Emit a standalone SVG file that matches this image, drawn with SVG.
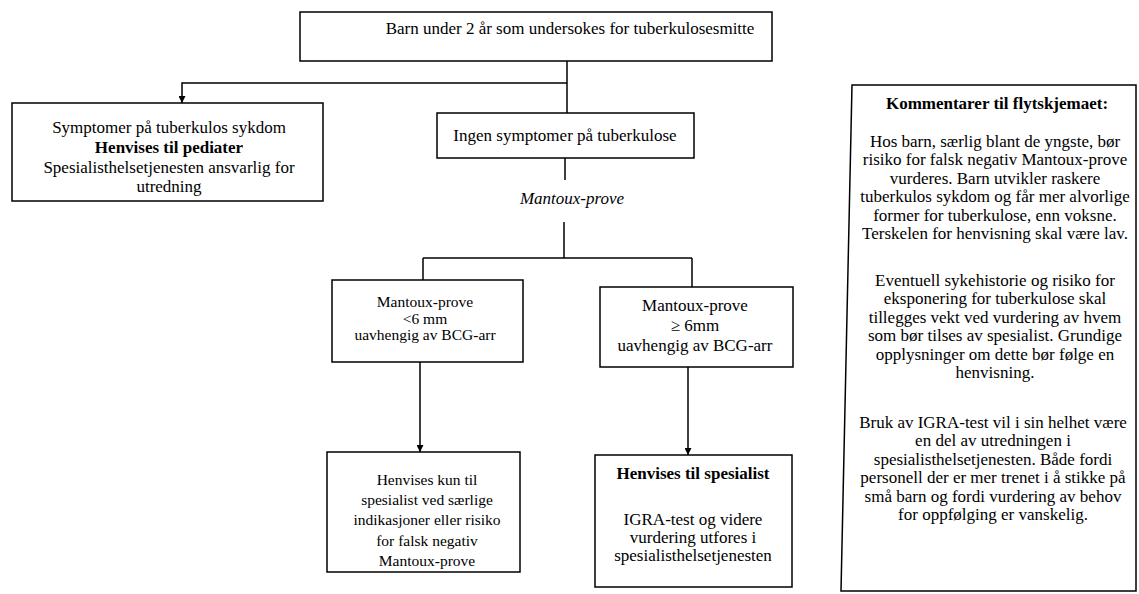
<svg xmlns="http://www.w3.org/2000/svg" width="1139" height="594" viewBox="0 0 1139 594">
  <style>
    .box { fill: #ffffff; stroke: #000000; stroke-width: 1.5; }
    .wire { fill: none; stroke: #000000; stroke-width: 1.5; }
    text { font-family: "Liberation Serif", "Times New Roman", serif; font-size: 17px; fill: #000000; text-anchor: middle; }
    .b { font-weight: bold; }
    .i { font-style: italic; }
    .sm { font-size: 15.5px; }
  </style>
  <defs>
    <marker id="arrow" viewBox="0 0 10 10" refX="10" refY="5" markerWidth="8" markerHeight="7" orient="auto" markerUnits="userSpaceOnUse">
      <path d="M0,0 L10,5 L0,10 z" fill="#000000"/>
    </marker>
  </defs>

  <!-- connectors -->
  <g id="connectors">
    <path class="wire" d="M567,61 V113"/>
    <path class="wire" d="M567,83 H182 V103" marker-end="url(#arrow)"/>
    <path class="wire" d="M565,158 V180"/>
    <path class="wire" d="M564,222 V258"/>
    <path class="wire" d="M423,258 H692"/>
    <path class="wire" d="M423,258 V280"/>
    <path class="wire" d="M692,258 V287"/>
    <path class="wire" d="M420,362 V452" marker-end="url(#arrow)"/>
    <path class="wire" d="M688,367 V455" marker-end="url(#arrow)"/>
  </g>

  <g id="start">
    <rect class="box" x="300" y="12" width="472" height="49"/>
    <text x="570" y="34">Barn under 2 år som undersokes for tuberkulosesmitte</text>
  </g>

  <g id="symptoms">
    <rect class="box" x="12" y="103" width="311" height="98"/>
    <text x="169" y="133">Symptomer på tuberkulos sykdom</text>
    <text x="169" y="153" class="b">Henvises til pediater</text>
    <text x="169" y="173">Spesialisthelsetjenesten ansvarlig for</text>
    <text x="169" y="192">utredning</text>
  </g>

  <g id="no-symptoms">
    <rect class="box" x="437" y="113" width="257" height="45"/>
    <text x="565" y="141">Ingen symptomer på tuberkulose</text>
  </g>

  <g id="mantoux-label">
    <text x="572" y="204" class="i">Mantoux-prove</text>
  </g>

  <g id="mantoux-low">
    <rect class="box" x="332" y="280" width="191" height="82"/>
    <text x="425" y="307" class="sm">Mantoux-prove</text>
    <text x="425" y="323.5" class="sm">&lt;6 mm</text>
    <text x="425" y="340" class="sm">uavhengig av BCG-arr</text>
  </g>

  <g id="mantoux-high">
    <rect class="box" x="600" y="287" width="193" height="80"/>
    <text x="695" y="311">Mantoux-prove</text>
    <text x="695" y="331">≥ 6mm</text>
    <text x="695" y="351">uavhengig av BCG-arr</text>
  </g>

  <g id="refer-special">
    <rect class="box" x="327" y="452" width="193" height="120"/>
    <text x="427" y="485" class="sm">Henvises kun til</text>
    <text x="427" y="505" class="sm">spesialist ved særlige</text>
    <text x="427" y="525" class="sm">indikasjoner eller risiko</text>
    <text x="427" y="546" class="sm">for falsk negativ</text>
    <text x="427" y="566" class="sm">Mantoux-prove</text>
  </g>

  <g id="refer-specialist">
    <rect class="box" x="595" y="455" width="197" height="132"/>
    <text x="693" y="479" class="b">Henvises til spesialist</text>
    <text x="693" y="525">IGRA-test og videre</text>
    <text x="693" y="543">vurdering utfores i</text>
    <text x="693" y="561">spesialisthelsetjenesten</text>
  </g>

  <g id="comments">
    <path class="box" d="M852,85 H1136 V591 H841 Z"/>
    <text x="997" y="109" class="b">Kommentarer til flytskjemaet:</text>
    <text x="995" y="147">Hos barn, særlig blant de yngste, bør</text>
    <text x="995" y="165.4">risiko for falsk negativ Mantoux-prove</text>
    <text x="995" y="183.8">vurderes. Barn utvikler raskere</text>
    <text x="995" y="202.2">tuberkulos sykdom og får mer alvorlige</text>
    <text x="995" y="220.6">former for tuberkulose, enn voksne.</text>
    <text x="995" y="239">Terskelen for henvisning skal være lav.</text>
    <text x="995" y="286">Eventuell sykehistorie og risiko for</text>
    <text x="995" y="304.4">eksponering for tuberkulose skal</text>
    <text x="995" y="322.8">tillegges vekt ved vurdering av hvem</text>
    <text x="995" y="341.2">som bør tilses av spesialist. Grundige</text>
    <text x="995" y="359.6">opplysninger om dette bør følge en</text>
    <text x="995" y="378">henvisning.</text>
    <text x="993" y="428">Bruk av IGRA-test vil i sin helhet være</text>
    <text x="993" y="446.4">en del av utredningen i</text>
    <text x="993" y="464.8">spesialisthelsetjenesten. Både fordi</text>
    <text x="993" y="483.2">personell der er mer trenet i å stikke på</text>
    <text x="993" y="501.6">små barn og fordi vurdering av behov</text>
    <text x="993" y="520">for oppfølging er vanskelig.</text>
  </g>
</svg>
